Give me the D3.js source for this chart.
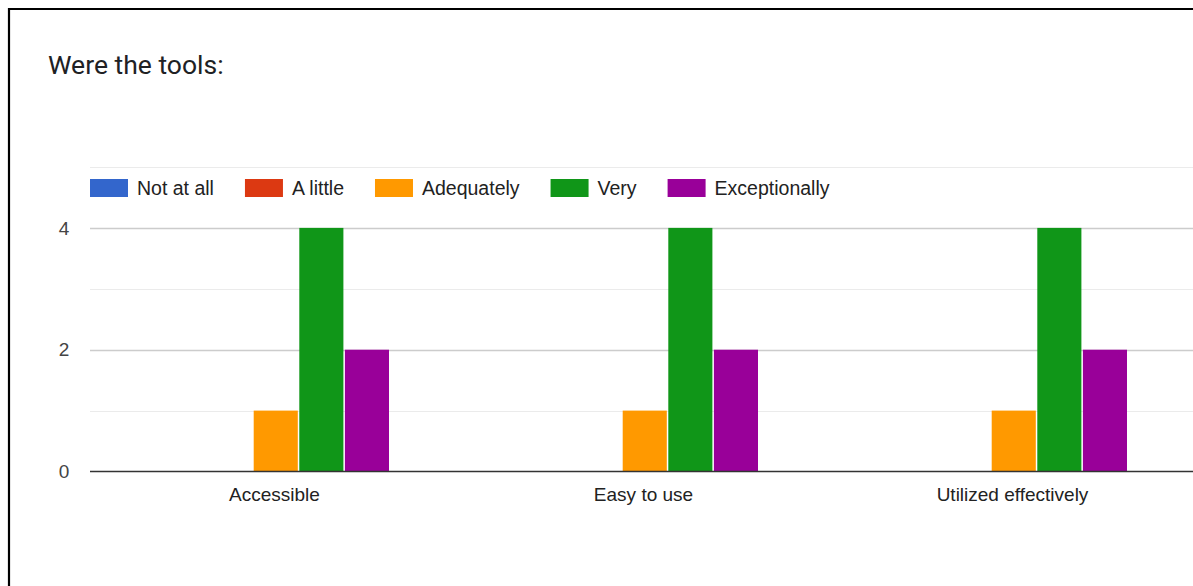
<!DOCTYPE html>
<html>
<head>
<meta charset="utf-8">
<script src="https://cdn.jsdelivr.net/npm/d3@7"></script>
<style>
  body { margin: 0; background: #fff; }
  svg { display: block; }
</style>
</head>
<body>
<div id="chart"></div>
<script>
// chart data
var categories = ["Accessible", "Easy to use", "Utilized effectively"];
var seriesNames = ["Not at all", "A little", "Adequately", "Very", "Exceptionally"];
var seriesColors = ["#3366cc", "#dc3912", "#ff9900", "#109618", "#990099"];
var notAtAll = [0, 0, 0];
var aLittle = [0, 0, 0];
var adequately = [1, 1, 1];
var very = [4, 4, 4];
var exceptionally = [2, 2, 2];
var yTicks = [0, 2, 4];
var yGrid = [1, 2, 3, 4, 5];

var seriesValues = [notAtAll, aLittle, adequately, very, exceptionally];

var width = 1193, height = 586;
var plotLeft = 90, bandW = 369;
var plotTop = 167, plotBottom = 471.5;

var svg = d3.select("#chart").append("svg")
  .attr("width", width)
  .attr("height", height);

// frame around the card (top + left edges visible)
svg.append("path")
  .attr("d", "M9,600 L9,9 L1200,9")
  .attr("fill", "none")
  .attr("stroke", "#000")
  .attr("stroke-width", 2.2);

svg.append("text")
  .attr("x", 48)
  .attr("y", 74)
  .attr("fill", "#202124")
  .style("font-family", "Roboto, 'Open Sans', sans-serif")
  .style("font-size", "26.5px")
  .text("Were the tools:");

var x0 = d3.scaleBand()
  .domain(categories)
  .range([plotLeft, plotLeft + bandW * categories.length]);

var x1 = d3.scaleBand()
  .domain(seriesNames)
  .range([0, 228]);

var y = d3.scaleLinear()
  .domain([0, 5])
  .range([plotBottom, plotTop]);

// gridlines
svg.append("g")
  .selectAll("line")
  .data(yGrid)
  .enter()
  .append("line")
  .attr("x1", plotLeft)
  .attr("x2", width)
  .attr("y1", (d) => Math.round(y(d)) + 0.5)
  .attr("y2", (d) => Math.round(y(d)) + 0.5)
  .attr("stroke", (d) => d % 2 === 0 ? "#cccccc" : "#ebebeb")
  .attr("stroke-width", (d) => d % 2 === 0 ? 1.6 : 1.2);

// y labels
svg.append("g")
  .selectAll("text")
  .data(yTicks)
  .enter()
  .append("text")
  .attr("x", 64)
  .attr("y", (d) => y(d))
  .attr("dy", "0.35em")
  .attr("text-anchor", "middle")
  .attr("fill", "#444")
  .style("font-family", "'Liberation Sans', Arial, sans-serif")
  .style("font-size", "19px")
  .text((d) => d);

// bars
var groups = svg.append("g")
  .selectAll("g")
  .data(categories)
  .enter()
  .append("g")
  .attr("transform", (d) => "translate(" + (x0(d) + (bandW - 228) / 2 + 1) + ",0)");

groups.selectAll("rect")
  .data((d, i) => seriesNames.map((s, j) => ({ s: s, v: seriesValues[j][i], c: seriesColors[j] })))
  .enter()
  .append("rect")
  .filter((d) => d.v > 0)
  .attr("x", (d) => x1(d.s) + 1)
  .attr("width", x1.bandwidth() - 1.5)
  .attr("y", (d) => y(d.v))
  .attr("height", (d) => y(0) - y(d.v))
  .attr("fill", (d) => d.c);

// baseline
svg.append("line")
  .attr("x1", plotLeft)
  .attr("x2", width)
  .attr("y1", plotBottom)
  .attr("y2", plotBottom)
  .attr("stroke", "#333")
  .attr("stroke-width", 1.6);

// category labels
svg.append("g")
  .selectAll("text")
  .data(categories)
  .enter()
  .append("text")
  .attr("x", (d) => x0(d) + bandW / 2)
  .attr("y", 501)
  .attr("text-anchor", "middle")
  .attr("fill", "#222")
  .style("font-family", "'Liberation Sans', Arial, sans-serif")
  .style("font-size", "19px")
  .text((d) => d);

// legend
var legend = svg.append("g");
var lx = 90;
seriesNames.forEach(function (name, i) {
  legend.append("rect")
    .attr("x", lx)
    .attr("y", 179)
    .attr("width", 38)
    .attr("height", 18)
    .attr("fill", seriesColors[i]);
  var t = legend.append("text")
    .attr("x", lx + 47)
    .attr("y", 188)
    .attr("dy", "0.35em")
    .attr("fill", "#222")
    .style("font-family", "'Liberation Sans', Arial, sans-serif")
    .style("font-size", "19.5px")
    .text(name);
  lx = lx + 47 + t.node().getComputedTextLength() + 31;
});
</script>
</body>
</html>
